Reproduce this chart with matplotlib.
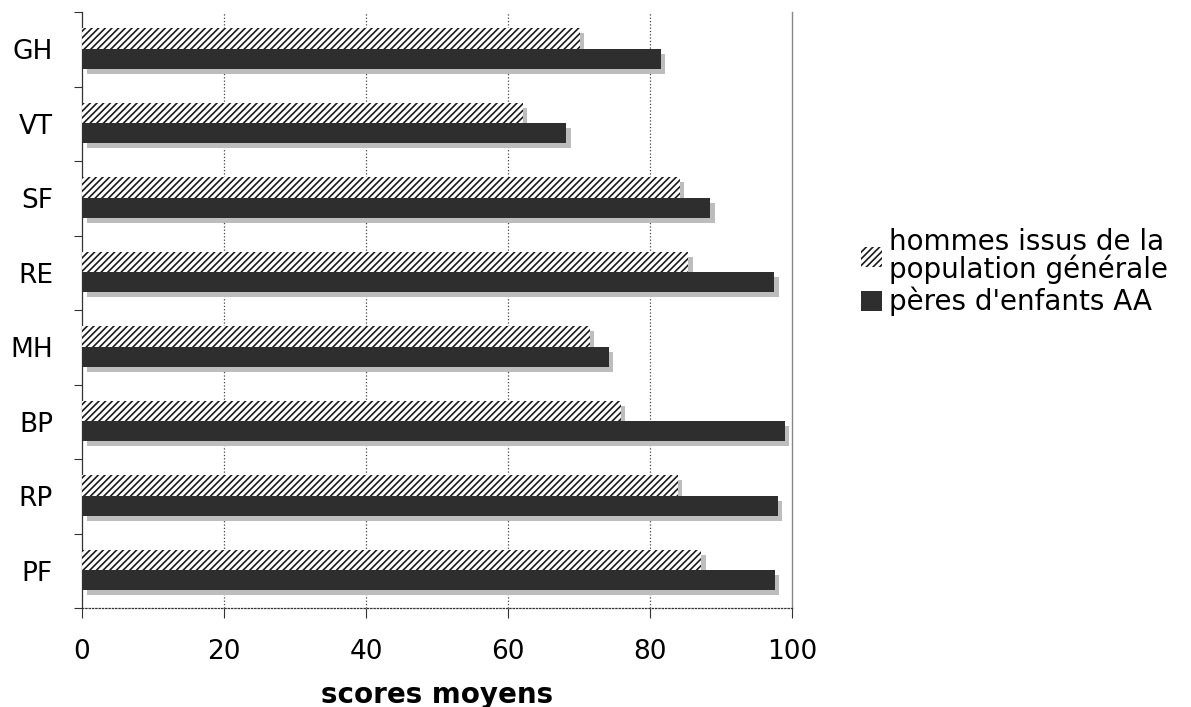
import numpy as np
import matplotlib
matplotlib.use('Agg')
import matplotlib.pyplot as plt
import matplotlib.transforms as mtransforms
from matplotlib.patches import Patch

categories = ['GH', 'VT', 'SF', 'RE', 'MH', 'BP', 'RP', 'PF']
pop_generale = [70.1, 62.1, 84.2, 85.4, 71.5, 75.9, 83.9, 87.2]
peres_aa = [81.5, 68.2, 88.5, 97.5, 74.2, 99.0, 98.0, 97.6]
series_labels = ['hommes issus de la\npopulation générale', "pères d'enfants AA"]
x_ticks = [0, 20, 40, 60, 80, 100]

plt.rcParams['hatch.linewidth'] = 1.2
plt.rcParams['font.family'] = ['DejaVu Sans']

fig = plt.figure(figsize=(11.91, 7.07), dpi=100)
ax = fig.add_axes([0.0689, 0.14, 0.596, 0.843])

y = np.arange(len(categories))
h = 0.27
y1 = y - h / 2 - 0.01
y2 = y + h / 2 - 0.01

# drop shadows: same bars, shifted a few pixels right and down
offset = mtransforms.ScaledTranslation(4.5 / 100, -5 / 100, fig.dpi_scale_trans)
for yy, vals in [(y1, pop_generale), (y2, peres_aa)]:
    sh = ax.barh(yy, vals, height=h, color='#bdbdbd', linewidth=0, zorder=2)
    for p in sh:
        p.set_transform(ax.transData + offset)

b1 = ax.barh(y1, pop_generale, height=h, color='white', edgecolor='#1a1a1a',
             hatch='/////', linewidth=0, zorder=3)
b2 = ax.barh(y2, peres_aa, height=h, color='#2e2e2e', linewidth=0, zorder=4)

ax.set_xlim(0, 100)
ax.set_ylim(len(categories) - 0.5, -0.5)

ax.set_xticks(x_ticks)
ax.set_xticklabels([str(t) for t in x_ticks], fontsize=19)
ax.tick_params(axis='x', direction='out', length=7, width=0.8, pad=15, color='#333333')

ax.set_yticks(y)
ax.set_yticklabels(categories, fontsize=19)
ax.set_yticks(np.arange(len(categories) + 1) - 0.5, minor=True)
ax.tick_params(axis='y', which='major', length=0, pad=21)
ax.tick_params(axis='y', which='minor', direction='out', length=6, width=0.8, color='#333333')

for t in x_ticks[1:-1]:
    ax.axvline(t, color='#444444', linestyle=':', linewidth=0.9, zorder=1)

ax.spines['top'].set_visible(False)
ax.spines['left'].set_color('#333333')
ax.spines['left'].set_linewidth(0.9)
ax.spines['right'].set_color('#888888')
ax.spines['right'].set_linewidth(1.0)
ax.spines['bottom'].set_linestyle(':')
ax.spines['bottom'].set_color('#333333')
ax.spines['bottom'].set_linewidth(0.9)

ax.set_xlabel('scores moyens', fontsize=20, fontweight='bold', labelpad=12)

handles = [Patch(facecolor='white', edgecolor='#1a1a1a', hatch='/////', linewidth=0),
           Patch(facecolor='#2e2e2e', linewidth=0)]
leg = fig.legend(handles, series_labels, loc='center left', bbox_to_anchor=(0.714, 0.615),
                 frameon=False, fontsize=20, handlelength=0.75, handleheight=0.75,
                 handletextpad=0.25, labelspacing=0.12, borderaxespad=0)
for txt in leg.get_texts():
    txt.set_linespacing(0.92)

fig.savefig('out.png', dpi=100)
